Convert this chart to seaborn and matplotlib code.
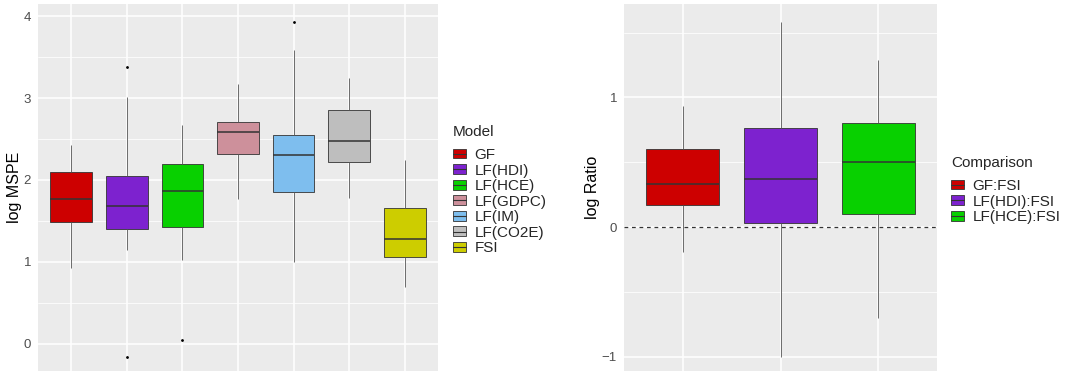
import pandas as pd
import matplotlib
matplotlib.use("Agg")
import matplotlib.pyplot as plt
from matplotlib.patches import Patch
from matplotlib.lines import Line2D
from matplotlib.legend_handler import HandlerTuple
from matplotlib.ticker import MultipleLocator
import seaborn as sns

# Panel 1: log MSPE por modelo
models = ["GF", "LF(HDI)", "LF(HCE)", "LF(GDPC)", "LF(IM)", "LF(CO2E)", "FSI"]
model_colors = ["#CD0000", "#7D22CF", "#08D000", "#CD909B", "#7EBEEE", "#BEBEBE", "#CDCD00"]
mspe_low = [0.93, 1.14, 1.02, 1.77, 1.00, 1.78, 0.70]
mspe_q1 = [1.49, 1.40, 1.43, 2.32, 1.85, 2.22, 1.06]
mspe_med = [1.77, 1.68, 1.86, 2.59, 2.30, 2.47, 1.28]
mspe_q3 = [2.10, 2.05, 2.19, 2.71, 2.55, 2.86, 1.66]
mspe_high = [2.43, 3.01, 2.67, 3.17, 3.59, 3.25, 2.25]
mspe_out_low = [None, -0.16, 0.05, None, None, None, None]
mspe_out_high = [None, 3.38, None, None, 3.93, None, None]

# Panel 2: log Ratio por comparação
comparisons = ["GF:FSI", "LF(HDI):FSI", "LF(HCE):FSI"]
comp_colors = ["#CD0000", "#7D22CF", "#08D000"]
ratio_low = [-0.19, -1.00, -0.70]
ratio_q1 = [0.17, 0.03, 0.10]
ratio_med = [0.33, 0.37, 0.50]
ratio_q3 = [0.60, 0.76, 0.80]
ratio_high = [0.93, 1.58, 1.29]
ratio_ref = 0


def montar_amostra(lo, q1, med, q3, hi, out_lo=None, out_hi=None):
    """9 pontos: quartis caem exatamente nos índices 2, 4, 6"""
    return [out_lo if out_lo is not None else lo, lo, q1, q1, med, q3, q3, hi,
            out_hi if out_hi is not None else hi]


def montar_df(nomes, low, q1, med, q3, high, out_low=None, out_high=None, col="grupo"):
    linhas = []
    for i, nome in enumerate(nomes):
        ol = out_low[i] if out_low else None
        oh = out_high[i] if out_high else None
        for v in montar_amostra(low[i], q1[i], med[i], q3[i], high[i], ol, oh):
            linhas.append({col: nome, "valor": v})
    return pd.DataFrame(linhas)


def estilo_ggplot(ax, ylabel):
    ax.set_facecolor("#EBEBEB")
    ax.set_axisbelow(True)
    for s in ax.spines.values():
        s.set_visible(False)
    ax.yaxis.set_major_locator(MultipleLocator(1))
    ax.yaxis.set_minor_locator(MultipleLocator(0.5))
    ax.grid(which="major", color="white", linewidth=1.1)
    ax.grid(which="minor", axis="y", color="white", linewidth=0.55)
    ax.tick_params(axis="x", length=0, labelbottom=False)
    ax.tick_params(axis="y", which="major", length=3, width=0.6, color="#333333",
                   labelcolor="#4D4D4D", labelsize=9.5, pad=2)
    ax.tick_params(which="minor", length=0)
    ax.set_xlabel("")
    ax.set_ylabel(ylabel, fontsize=11.5, color="black", labelpad=1)


def legenda(fig, nomes, cores, titulo, x, y_titulo, y_itens):
    # caixinha com linha da mediana, como no ggplot
    handles = [(Patch(facecolor=c, edgecolor="#333333", linewidth=0.6),
                Line2D([], [], color="#333333", linewidth=0.8)) for c in cores]
    fig.text(x, y_titulo, titulo, fontsize=11, va="center", ha="left")
    fig.legend(handles, nomes, loc="upper left", bbox_to_anchor=(x, y_itens),
               handler_map={tuple: HandlerTuple(ndivide=1, pad=0)},
               frameon=False, fontsize=11, handlelength=0.85,
               handleheight=0.6, handletextpad=0.55, labelspacing=0.1, borderpad=0,
               borderaxespad=0, alignment="left")


def main():
    sns.set_theme(style="darkgrid")
    plt.rcParams["font.family"] = ["Liberation Sans", "DejaVu Sans"]

    fig = plt.figure(figsize=(10.85, 3.71), dpi=100)
    ax1 = fig.add_axes([38 / 1085, 0, 400 / 1085, 367 / 371])
    ax2 = fig.add_axes([624 / 1085, 0, 313 / 1085, 367 / 371])

    props = dict(width=0.75, dodge=False, legend=False, saturation=1,
                 linecolor="#333333", linewidth=0.6, fliersize=1.0, showcaps=False,
                 flierprops=dict(marker="o", markerfacecolor="black", markeredgecolor="black"),
                 medianprops=dict(linewidth=1.1),
                 whiskerprops=dict(color="#555555"))

    df1 = montar_df(models, mspe_low, mspe_q1, mspe_med, mspe_q3, mspe_high,
                    mspe_out_low, mspe_out_high, col="Model")
    sns.boxplot(data=df1, x="Model", y="valor", hue="Model", order=models,
                hue_order=models, palette=model_colors, ax=ax1, **props)
    ax1.set_xlim(-0.6, 6.6)
    ax1.set_ylim(-0.33, 4.147)
    estilo_ggplot(ax1, "log MSPE")

    df2 = montar_df(comparisons, ratio_low, ratio_q1, ratio_med, ratio_q3, ratio_high,
                    col="Comparison")
    sns.boxplot(data=df2, x="Comparison", y="valor", hue="Comparison", order=comparisons,
                hue_order=comparisons, palette=comp_colors, ax=ax2, **props)
    ax2.axhline(ratio_ref, color="#333333", linestyle=(0, (3, 3)), linewidth=0.9, zorder=3)
    ax2.set_xlim(-0.6, 2.6)
    ax2.set_ylim(-1.11, 1.72)
    estilo_ggplot(ax2, "log Ratio")

    legenda(fig, models, model_colors, "Model", 453 / 1085, 1 - 132 / 371, 1 - 148 / 371)
    legenda(fig, comparisons, comp_colors, "Comparison", 951 / 1085, 1 - 163 / 371,
            1 - 179 / 371)

    fig.savefig("out.png", dpi=100)
    plt.close(fig)


if __name__ == "__main__":
    main()
